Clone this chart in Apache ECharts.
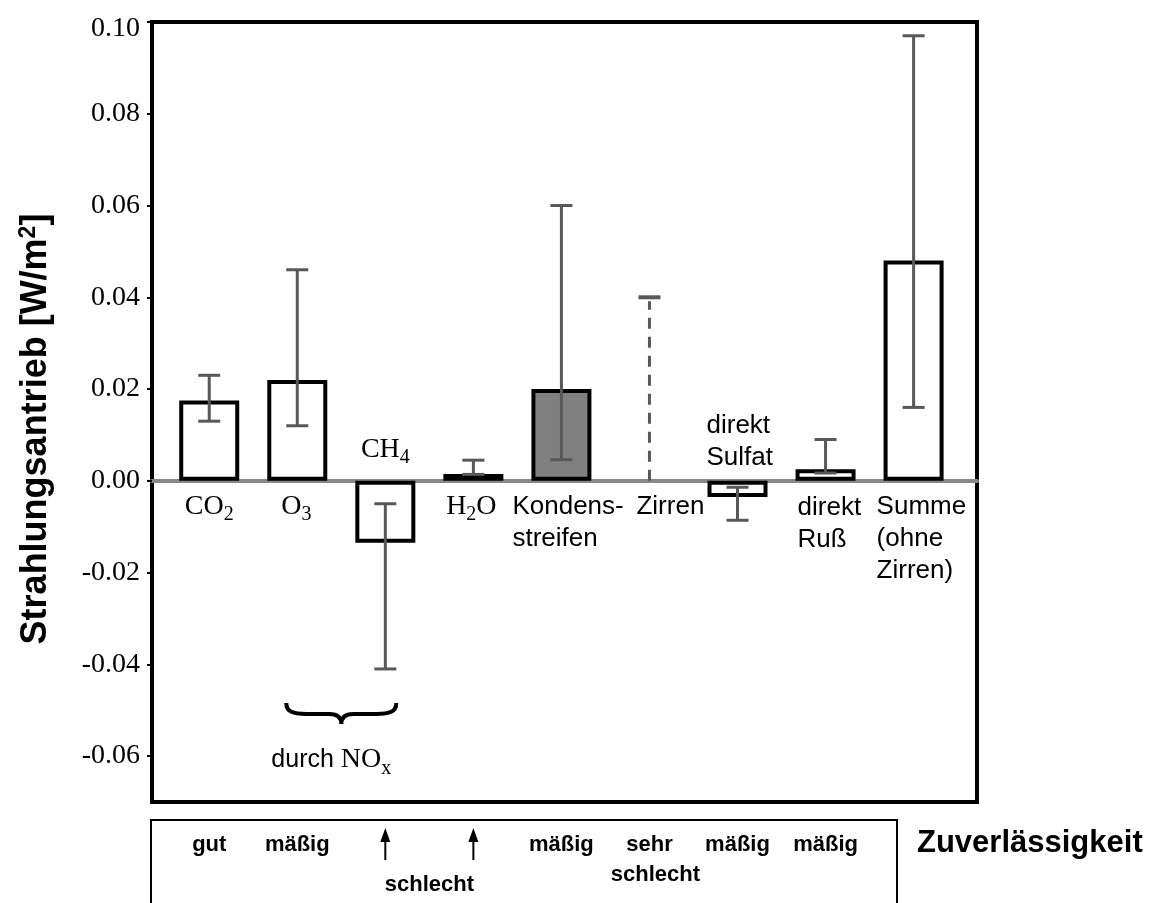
<!DOCTYPE html>
<html>
<head>
<meta charset="utf-8">
<script src="https://cdn.jsdelivr.net/npm/echarts@6/dist/echarts.min.js"></script>
<style>
  html, body { margin: 0; padding: 0; background: #fff; }
  #chart { width: 1152px; height: 903px; }
</style>
</head>
<body>
<div id="chart"></div>
<script>
// Radiative forcing of aviation by component, in W/m²
const components = ['CO2', 'O3', 'CH4', 'H2O', 'Kondensstreifen', 'Zirren', 'Sulfat', 'Russ', 'Summe'];
const forcing    = [0.0175, 0.022, -0.0135, 0.0015, 0.020, null, -0.0035, 0.0025, 0.048];
const rangeLow   = [0.013, 0.012, -0.041, 0.0014, 0.0046, 0.0, -0.0086, 0.0017, 0.016];
const rangeHigh  = [0.023, 0.046, -0.005, 0.0045, 0.060, 0.040, -0.0014, 0.009, 0.097];
const componentLabels = [
  '{t|CO}{s|2}', '{t|O}{s|3}', '{t|CH}{s|4}', '{t|H}{s|2}{t|O}',
  '{a|Kondens-}\n{a|streifen}', '{a|Zirren}', '{a|direkt}\n{a|Sulfat}',
  '{a|direkt}\n{a|Ruß}', '{a|Summe}\n{a|(ohne}\n{a|Zirren)}'
];
const reliability = ['gut', 'mäßig', 'schlecht', 'schlecht', 'mäßig', 'sehr schlecht', 'mäßig', 'mäßig', ''];
const noxGroup = [1, 2];
const yTickValues = [-0.06, -0.04, -0.02, 0.0, 0.02, 0.04, 0.06, 0.08, 0.10];

const SERIF = 'Liberation Serif';
const SANS = 'Liberation Sans';
const X_MIN = -0.65, X_MAX = 8.72;
const Y_MAX = 0.10;
const ERR_COLOR = '#585858';

const rich = {
  t: { fontFamily: SERIF, fontSize: 28, color: '#000' },
  s: { fontFamily: SERIF, fontSize: 20, color: '#000', padding: [16, 0, 0, 0] },
  a: { fontFamily: SANS, fontSize: 26, color: '#000', lineHeight: 32 }
};

// label placement relative to each component's zero point (px)
const labelLayout = [
  { dx: 0,   dy: 26,  align: 'center', va: 'middle' },
  { dx: -1,  dy: 26,  align: 'center', va: 'middle' },
  { dx: 0,   dy: -31, align: 'center', va: 'middle' },
  { dx: -2,  dy: 26,  align: 'center', va: 'middle' },
  { dx: -49, dy: 10,  align: 'left',   va: 'top' },
  { dx: -13, dy: 10,  align: 'left',   va: 'top' },
  { dx: -31, dy: -71, align: 'left',   va: 'top' },
  { dx: -28, dy: 11,  align: 'left',   va: 'top' },
  { dx: -37, dy: 10,  align: 'left',   va: 'top' }
];

const chart = echarts.init(document.getElementById('chart'), null, { renderer: 'canvas' });

const barData = [];
forcing.forEach((v, i) => {
  if (v === null) return;
  barData.push({
    value: [i, v],
    itemStyle: i === 4 ? { color: '#808080' } : undefined
  });
});

const option = {
  animation: false,
  backgroundColor: '#fff',
  title: {
    text: 'Zuverlässigkeit',
    left: 917, top: 828, padding: 0,
    textStyle: { fontFamily: SANS, fontWeight: 'bold', fontSize: 31, color: '#000' }
  },
  grid: [
    { left: 152, right: 175, top: 22, bottom: 101, show: true, borderColor: '#000', borderWidth: 4, backgroundColor: 'transparent' },
    { left: 152, right: 175, top: 820, bottom: 0, show: false }
  ],
  xAxis: [
    {
      type: 'value', gridIndex: 0, min: X_MIN, max: X_MAX,
      axisLine: { show: true, onZero: true, lineStyle: { color: '#888', width: 4 } },
      axisTick: { show: false }, axisLabel: { show: false }, splitLine: { show: false }
    },
    {
      type: 'value', gridIndex: 1, min: X_MIN, max: X_MAX, show: false
    }
  ],
  yAxis: [
    {
      type: 'value', gridIndex: 0, min: -0.07, max: Y_MAX, interval: 0.02,
      name: 'Strahlungsantrieb [W/m{sup|2}]',
      nameLocation: 'middle', nameRotate: 90, nameGap: 96,
      nameTextStyle: {
        fontFamily: SANS, fontWeight: 'bold', fontSize: 36, color: '#000',
        padding: [0, 34, 0, 0],
        rich: { sup: { fontFamily: SANS, fontWeight: 'bold', fontSize: 23, color: '#000', padding: [0, 0, 16, 0] } }
      },
      axisLine: { show: false, onZero: false },
      axisTick: { show: true, inside: false, length: 5, lineStyle: { color: '#000', width: 2 }, customValues: yTickValues },
      axisLabel: {
        fontFamily: SERIF, fontSize: 28, color: '#000', margin: 12,
        customValues: yTickValues,
        formatter: v => (Math.abs(v - Y_MAX) < 1e-9 ? '{top|' + v.toFixed(2) + '}' : v.toFixed(2)),
        rich: { top: { fontFamily: SERIF, fontSize: 28, color: '#000', padding: [14, 0, 0, 0] } }
      },
      splitLine: { show: false }
    },
    { type: 'value', gridIndex: 1, min: 0, max: 1, show: false }
  ],
  graphic: [
    {
      type: 'rect', z: 0,
      shape: { x: 151, y: 820, width: 746, height: 120 },
      style: { fill: 'none', stroke: '#000', lineWidth: 2 }
    }
  ],
  series: [
    {
      type: 'bar', xAxisIndex: 0, yAxisIndex: 0,
      barWidth: 60, z: 3,
      itemStyle: { color: '#fff', borderColor: '#000', borderWidth: 4 },
      data: barData
    },
    {
      // uncertainty ranges
      type: 'custom', xAxisIndex: 0, yAxisIndex: 0, z: 5,
      data: components.map((c, i) => [i, rangeLow[i], rangeHigh[i]]),
      renderItem(params, api) {
        const i = api.value(0);
        const lo = api.coord([i, api.value(1)]);
        const hi = api.coord([i, api.value(2)]);
        const dashed = params.dataIndex === 5;
        const cap = 11;
        const children = [];
        children.push({
          type: 'line',
          shape: { x1: lo[0], y1: lo[1], x2: hi[0], y2: hi[1] + (dashed ? 4 : 0) },
          style: { stroke: ERR_COLOR, lineWidth: 3, lineDash: dashed ? [11, 8] : null }
        });
        children.push({
          type: 'line',
          shape: { x1: hi[0] - cap, y1: hi[1], x2: hi[0] + cap, y2: hi[1] },
          style: { stroke: ERR_COLOR, lineWidth: dashed ? 4 : 3 }
        });
        if (!dashed) {
          children.push({
            type: 'line',
            shape: { x1: lo[0] - cap, y1: lo[1], x2: lo[0] + cap, y2: lo[1] },
            style: { stroke: ERR_COLOR, lineWidth: 3 }
          });
        }
        return { type: 'group', children };
      }
    },
    {
      // component names
      type: 'custom', xAxisIndex: 0, yAxisIndex: 0, z: 6, clip: false,
      data: components.map((c, i) => [i, 0]),
      renderItem(params, api) {
        const p = api.coord([api.value(0), api.value(1)]);
        const L = labelLayout[params.dataIndex];
        return {
          type: 'text',
          x: p[0] + L.dx, y: p[1] + L.dy,
          style: {
            text: componentLabels[params.dataIndex], rich,
            align: L.align, verticalAlign: L.va, fill: '#000'
          }
        };
      }
    },
    {
      // brace marking the NOx-driven components
      type: 'custom', xAxisIndex: 0, yAxisIndex: 0, z: 6, clip: false,
      data: [[noxGroup[0], noxGroup[1], -0.0484]],
      renderItem(params, api) {
        const a = api.coord([api.value(0), api.value(2)]);
        const b = api.coord([api.value(1), api.value(2)]);
        const x0 = a[0] - 11, x1 = b[0] + 11, y0 = a[1];
        const xm = (x0 + x1) / 2;
        const d = [
          'M', x0, y0,
          'C', x0, y0 + 9, x0 + 7, y0 + 11, x0 + 20, y0 + 11,
          'L', xm - 12, y0 + 11,
          'C', xm - 4, y0 + 11, xm, y0 + 14, xm, y0 + 21,
          'C', xm, y0 + 14, xm + 4, y0 + 11, xm + 12, y0 + 11,
          'L', x1 - 20, y0 + 11,
          'C', x1 - 7, y0 + 11, x1, y0 + 9, x1, y0
        ].join(' ');
        return {
          type: 'group',
          children: [
            { type: 'path', shape: { pathData: d }, style: { fill: 'none', stroke: '#000', lineWidth: 4 } },
            {
              type: 'text', x: xm - 10, y: y0 + 57,
              style: {
                text: '{a|durch }{t|NO}{s|x}', align: 'center', verticalAlign: 'middle',
                rich: {
                  a: { fontFamily: SANS, fontSize: 25, color: '#000' },
                  t: { fontFamily: SERIF, fontSize: 28, color: '#000' },
                  s: { fontFamily: SERIF, fontSize: 20, color: '#000', padding: [18, 0, 0, 0] }
                }
              }
            }
          ]
        };
      }
    },
    {
      // reliability row
      type: 'custom', xAxisIndex: 1, yAxisIndex: 1, z: 6, clip: false,
      data: reliability.map((r, i) => [i, 1]),
      renderItem(params, api) {
        const i = params.dataIndex;
        const word = reliability[i];
        if (!word) return null;
        const p = api.coord([api.value(0), api.value(1)]);
        const top = p[1];
        const font = { fontFamily: SANS, fontWeight: 'bold', fontSize: 22, fill: '#000', align: 'center', verticalAlign: 'middle' };
        const children = [];
        if (word === 'schlecht') {
          // arrow pointing to the shared label
          children.push({ type: 'line', shape: { x1: p[0], y1: top + 40, x2: p[0], y2: top + 20 }, style: { stroke: '#000', lineWidth: 2 } });
          children.push({ type: 'polygon', shape: { points: [[p[0], top + 8], [p[0] - 5, top + 22], [p[0] + 5, top + 22]] }, style: { fill: '#000' } });
          if (reliability[i + 1] === 'schlecht') {
            const q = api.coord([i + 1, 1]);
            children.push({ type: 'text', x: (p[0] + q[0]) / 2, y: top + 65, style: Object.assign({ text: 'schlecht' }, font) });
          }
        } else if (word === 'sehr schlecht') {
          children.push({ type: 'text', x: p[0], y: top + 25, style: Object.assign({ text: 'sehr' }, font) });
          children.push({ type: 'text', x: p[0] + 6, y: top + 55, style: Object.assign({ text: 'schlecht' }, font) });
        } else {
          children.push({ type: 'text', x: p[0], y: top + 25, style: Object.assign({ text: word }, font) });
        }
        return { type: 'group', children };
      }
    }
  ]
};

chart.setOption(option);
</script>
</body>
</html>
